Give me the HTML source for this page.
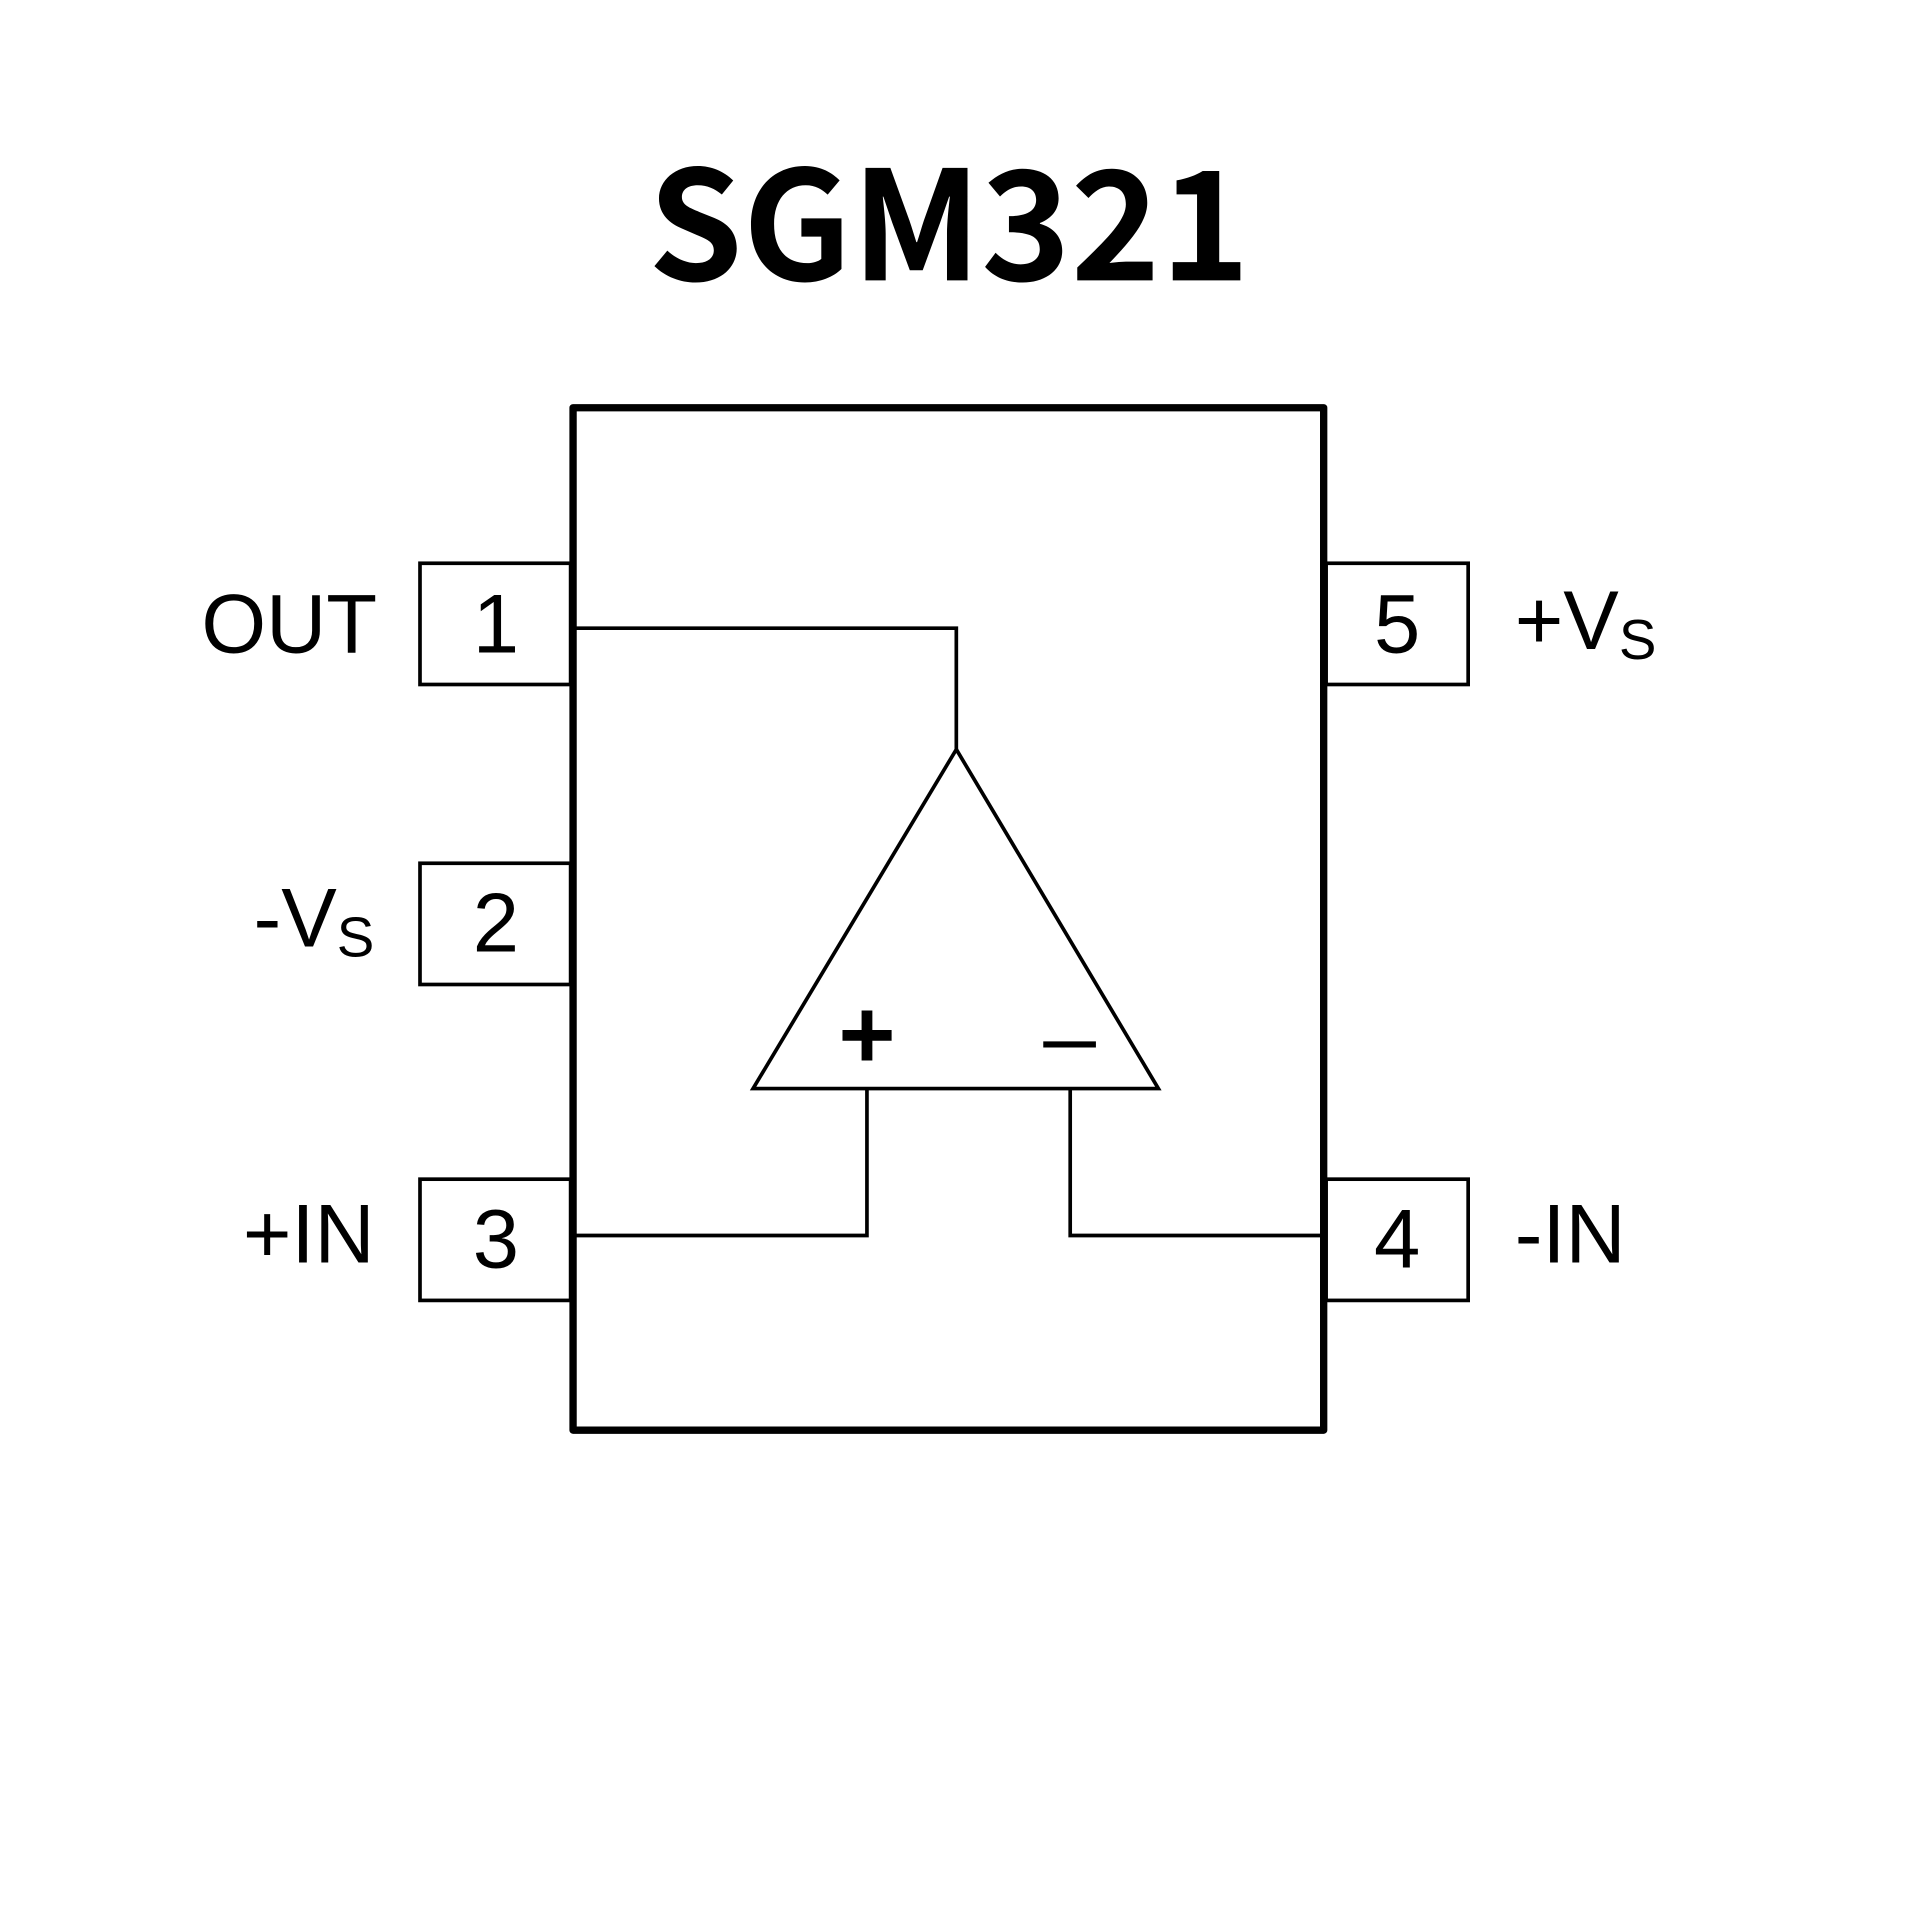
<!DOCTYPE html>
<html><head><style>html,body{margin:0;padding:0;background:#fff}svg{display:block}</style></head>
<body>
<svg width="1920" height="1920" viewBox="0 0 1568 1568" xmlns="http://www.w3.org/2000/svg">
<rect width="1568" height="1568" fill="#fff"/>
<text x="775" y="229" text-anchor="middle" font-family="'Noto Sans CJK SC','Liberation Sans',sans-serif" font-weight="bold" font-size="124" fill="#000">SGM321</text>
<g fill="none" stroke="#000" stroke-width="3">
<rect x="343" y="460" width="123" height="99"/>
<rect x="343" y="705" width="123" height="99"/>
<rect x="343" y="963" width="123" height="99"/>
<rect x="1083" y="460" width="116" height="99"/>
<rect x="1083" y="963" width="116" height="99"/>
<polyline points="470,513 781,513 781,612"/>
<polygon points="781,612 615,889 946,889"/>
<polyline points="708,889 708,1009 470,1009"/>
<polyline points="874,889 874,1009 1081,1009"/>
</g>
<rect x="468" y="333" width="613" height="835" fill="none" stroke="#000" stroke-width="6" stroke-linejoin="round"/>
<g font-family="'Liberation Sans',sans-serif" font-size="68" fill="#000">
<text x="405" y="533" text-anchor="middle">1</text>
<text x="405" y="777" text-anchor="middle">2</text>
<text x="405" y="1035" text-anchor="middle">3</text>
<text x="1141" y="533" text-anchor="middle">5</text>
<text x="1141" y="1035" text-anchor="middle">4</text>
<text x="308" y="533" text-anchor="end">OUT</text>
<text x="207" y="773">-V<tspan font-size="46" dy="8">S</tspan></text>
<text x="306" y="1031" text-anchor="end">+IN</text>
<text x="1237" y="530">+V<tspan font-size="46" dy="8">S</tspan></text>
<text x="1237" y="1031">-IN</text>
<text x="708" y="872" text-anchor="middle" font-size="80" font-weight="bold">+</text>
</g>
<line x1="852" y1="853" x2="895" y2="853" stroke="#000" stroke-width="5"/>
</svg>
</body></html>
